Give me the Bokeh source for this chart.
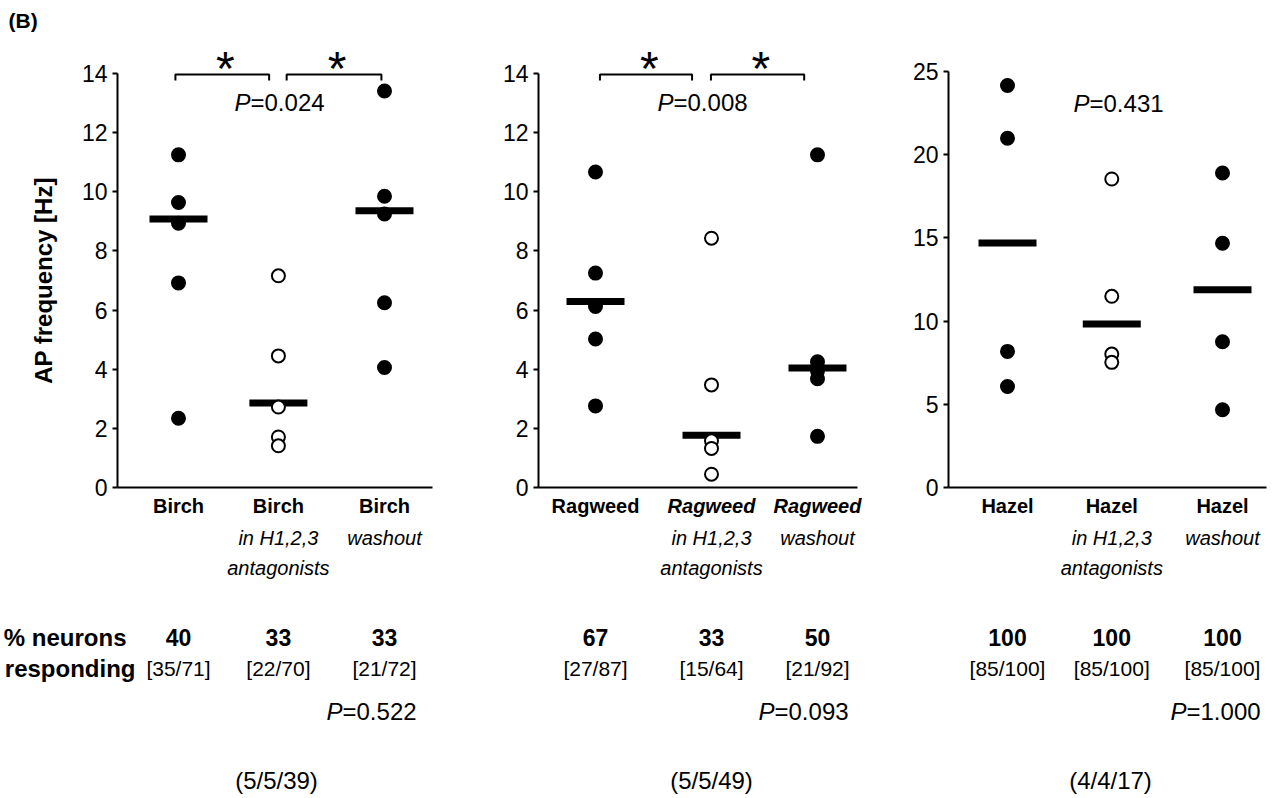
from bokeh.plotting import figure
from bokeh.models import ColumnDataSource, LabelSet, Label, FixedTicker, Range1d
from bokeh.layouts import row
from bokeh.core.properties import value
from bokeh.embed import file_html
from bokeh.resources import INLINE

# ---------------- data ----------------
groups = ["Birch", "Ragweed", "Hazel"]
cond_line2 = ["", "in H1,2,3", "washout"]
cond_line3 = ["", "antagonists", ""]
row1_styles = [["bold", "bold", "bold"],
               ["bold", "bold italic", "bold italic"],
               ["bold", "bold", "bold"]]

birch_ctrl = [11.25, 9.64, 8.94, 6.92, 2.34]
birch_anta = [7.16, 4.45, 2.72, 1.71, 1.41]
birch_wash = [13.41, 9.85, 9.25, 6.25, 4.06]
birch_bars = [9.08, 2.86, 9.36]

ragweed_ctrl = [10.67, 7.25, 6.12, 5.02, 2.76]
ragweed_anta = [8.43, 3.47, 1.58, 1.32, 0.45]
ragweed_wash = [11.25, 4.25, 3.95, 3.68, 1.73]
ragweed_bars = [6.29, 1.77, 4.04]

hazel_ctrl = [24.16, 20.99, 8.18, 6.07]
hazel_anta = [18.54, 11.49, 8.02, 7.52]
hazel_wash = [18.90, 14.68, 8.76, 4.67]
hazel_bars = [14.70, 9.82, 11.89]

birch_pct = ["40", "33", "33"]
ragweed_pct = ["67", "33", "50"]
hazel_pct = ["100", "100", "100"]
birch_frac = ["[35/71]", "[22/70]", "[21/72]"]
ragweed_frac = ["[27/87]", "[15/64]", "[21/92]"]
hazel_frac = ["[85/100]", "[85/100]", "[85/100]"]

p_frequency = ["0.024", "0.008", "0.431"]
p_responding = ["0.522", "0.093", "1.000"]
n_counts = ["(5/5/39)", "(5/5/49)", "(4/4/17)"]
significant = [["*", "*"], ["*", "*"], []]

y_ticks = [[0, 2, 4, 6, 8, 10, 12, 14], [0, 2, 4, 6, 8, 10, 12, 14], [0, 5, 10, 15, 20, 25]]
y_axis_max = [14, 14, 25]

series = [[birch_ctrl, birch_anta, birch_wash],
          [ragweed_ctrl, ragweed_anta, ragweed_wash],
          [hazel_ctrl, hazel_anta, hazel_wash]]
bars = [birch_bars, ragweed_bars, hazel_bars]
pcts = [birch_pct, ragweed_pct, hazel_pct]
fracs = [birch_frac, ragweed_frac, hazel_frac]
filled = [True, False, True]

# ---------------- layout (page pixels) ----------------
SANS = "Liberation Sans"
H = 796
Y0_IMG = 487          # pixel row of y = 0

LAYOUT = [
    dict(cx0=0, cx1=480, ax0=117, ax1=432, pxu=29.57, pxx=103.0, c1=178, xs=[1, 1.97, 3],
         brackets=[(0.97, 1.88), (2.05, 2.97)], ptop=(250, 102), pbot=(342, 711), cnt=276),
    dict(cx0=480, cx1=900, ax0=538, ax1=857, pxu=29.57, pxx=111.0, c1=595, xs=[1, 2.045, 3],
         brackets=[(1.04, 1.87), (2.04, 2.88)], ptop=(673, 102), pbot=(774, 711), cnt=711),
    dict(cx0=900, cx1=1272, ax0=948, ax1=1266, pxu=16.64, pxx=107.5, c1=1007, xs=[1, 1.97, 3],
         brackets=[], ptop=(1089, 103), pbot=(1186, 711), cnt=1110),
]
ROW_CAT1, ROW_CAT2, ROW_CAT3 = 505, 537, 567
ROW_PCT, ROW_FRAC, ROW_CNT = 637, 668, 780


def build_panel(k):
    L = LAYOUT[k]
    pxu = L["pxu"]

    def ydat(img_y):
        return (Y0_IMG - img_y) / pxu

    def xdat(img_x):
        return 1 + (img_x - L["c1"]) / L["pxx"]

    p = figure(width=L["cx1"] - L["cx0"], height=H,
               x_range=Range1d(xdat(L["cx0"]), xdat(L["cx1"])),
               y_range=Range1d(ydat(H), ydat(0)),
               output_backend="svg", toolbar_location=None,
               min_border=0, min_border_left=0, min_border_right=0,
               min_border_top=0, min_border_bottom=0)
    p.outline_line_color = None
    p.grid.visible = False
    p.background_fill_color = "white"
    p.border_fill_color = "white"

    yax = p.yaxis[0]
    yax.fixed_location = xdat(L["ax0"])
    yax.ticker = FixedTicker(ticks=y_ticks[k])
    yax.bounds = (0, y_axis_max[k])
    yax.axis_line_width = 2
    yax.major_tick_line_width = 2
    yax.major_tick_out = 5
    yax.major_tick_in = 0
    yax.minor_tick_line_color = None
    yax.major_label_standoff = 5
    yax.major_label_text_font = SANS
    yax.major_label_text_font_size = "23px"
    yax.major_label_text_color = "black"
    if k == 0:
        yax.axis_label = "AP frequency [Hz]"
        yax.axis_label_text_font = SANS
        yax.axis_label_text_font_style = "bold"
        yax.axis_label_text_font_size = "24px"
        yax.axis_label_text_color = "black"
        yax.axis_label_standoff = 22

    xax = p.xaxis[0]
    xax.fixed_location = 0
    xax.bounds = (xdat(L["ax0"]), xdat(L["ax1"]))
    xax.ticker = FixedTicker(ticks=[])
    xax.major_label_text_font_size = "0px"
    xax.major_tick_line_color = None
    xax.minor_tick_line_color = None
    xax.axis_line_width = 2

    # median bars
    p.rect(x=L["xs"], y=bars[k], width=58, height=7, width_units="screen", height_units="screen",
           fill_color="black", line_color=None)
    # points
    for j, vals in enumerate(series[k]):
        p.scatter([L["xs"][j]] * len(vals), vals, marker="circle", size=13,
                  fill_color="black" if filled[j] else "white", line_color="black", line_width=2)

    # significance brackets
    if significant[k]:
        y_hi, y_lo = ydat(74), ydat(80)
        xs_b = [[a, a, b, b] for a, b in L["brackets"]]
        ys_b = [[y_lo, y_hi, y_hi, y_lo] for _ in L["brackets"]]
        p.multi_line(xs_b, ys_b, line_color="black", line_width=2)
        p.text(x=[(a + b) / 2 + 0.03 for a, b in L["brackets"]], y=[ydat(67.5)] * len(L["brackets"]),
               text=significant[k], text_font=value(SANS), text_font_size="48px",
               text_align="center", text_baseline="middle", text_color="black")

    def labelset(xs, img_y, texts, size, styles, align="center"):
        src = ColumnDataSource(dict(x=xs, y=[ydat(img_y)] * len(xs), t=texts, s=styles))
        p.add_layout(LabelSet(x="x", y="y", text="t", source=src, text_font=value(SANS),
                              text_font_size=value(size), text_font_style="s",
                              text_align=align, text_baseline="middle", text_color="black"))

    n = len(L["xs"])
    labelset(L["xs"], ROW_CAT1, [groups[k]] * n, "20px", row1_styles[k])
    labelset(L["xs"], ROW_CAT2, cond_line2, "20px", ["italic"] * n)
    labelset(L["xs"], ROW_CAT3, cond_line3, "20px", ["italic"] * n)
    labelset(L["xs"], ROW_PCT, pcts[k], "23px", ["bold"] * n)
    labelset(L["xs"], ROW_FRAC, fracs[k], "21px", ["normal"] * n)

    # P values (italic P)
    for (px_img, py_img), pv in [(L["ptop"], p_frequency[k]), (L["pbot"], p_responding[k])]:
        p.add_layout(Label(x=xdat(px_img), y=ydat(py_img), text="P", text_font=SANS, text_font_size="24px",
                           text_font_style="italic", text_align="right", text_baseline="middle",
                           text_color="black"))
        p.add_layout(Label(x=xdat(px_img), y=ydat(py_img), text="=" + pv, text_font=SANS,
                           text_font_size="24px", text_align="left", text_baseline="middle",
                           text_color="black"))
    p.add_layout(Label(x=xdat(L["cnt"]), y=ydat(ROW_CNT), text=n_counts[k], text_font=SANS,
                       text_font_size="24px", text_align="center", text_baseline="middle", text_color="black"))

    if k == 0:
        p.add_layout(Label(x=xdat(8), y=ydat(20), text="(B)", text_font=SANS, text_font_size="21px",
                           text_font_style="bold", text_align="left", text_baseline="middle",
                           text_color="black"))
        p.add_layout(Label(x=xdat(126), y=ydat(ROW_PCT), text="% neurons", text_font=SANS,
                           text_font_size="24px", text_font_style="bold", text_align="right",
                           text_baseline="middle", text_color="black"))
        p.add_layout(Label(x=xdat(135), y=ydat(ROW_FRAC), text="responding", text_font=SANS,
                           text_font_size="24px", text_font_style="bold", text_align="right",
                           text_baseline="middle", text_color="black"))
    return p


layout = row(*[build_panel(k) for k in range(3)])
open("out.html", "w").write(file_html(layout, INLINE))
